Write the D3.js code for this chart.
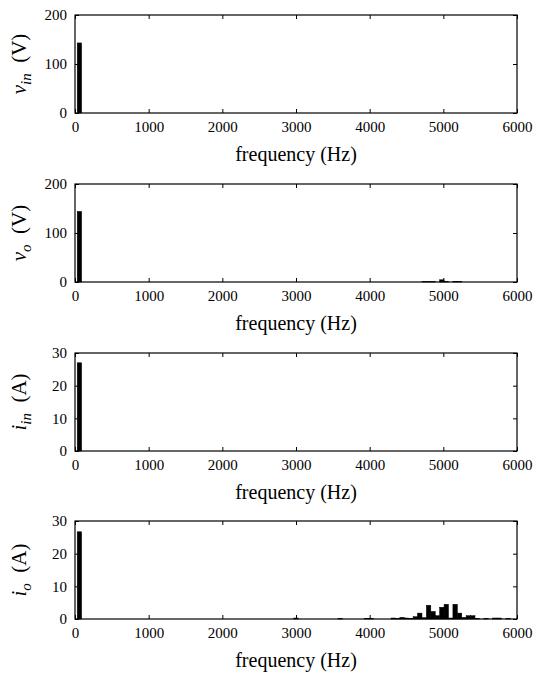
<!DOCTYPE html>
<html>
<head>
<meta charset="utf-8">
<script src="https://cdn.jsdelivr.net/npm/d3@7"></script>
<style>
  body { margin: 0; background: #fff; }
  svg text { font-family: "Liberation Serif", "DejaVu Serif", serif; fill: #000; }
</style>
</head>
<body>
<div class="canvas"></div>
<script>
const serif = '"Liberation Serif", "DejaVu Serif", serif';

// x axis ticks (Hz)
const xTicks = [0, 1000, 2000, 3000, 4000, 5000, 6000];

// harmonic spectra, frequency (Hz) and amplitude
const vinFreq = [60];
const vinAmp = [143];

const voFreq = [60, 4740, 4800, 4860, 4980, 5040, 5160, 5220];
const voAmp = [144, 0.6, 1.0, 0.8, 4.5, 1.0, 1.5, 1.0];

const iinFreq = [60];
const iinAmp = [27];

const ioFreq = [60, 3000, 3600, 3960, 4020, 4320, 4380, 4440, 4500, 4560, 4620, 4680, 4740,
  4800, 4860, 4920, 4980, 5040, 5100, 5160, 5220, 5280, 5340, 5400, 5460, 5580, 5700, 5760, 5880];
const ioAmp = [26.7, 0.3, 0.2, 0.2, 0.2, 0.3, 0.2, 0.5, 0.3, 0.2, 0.7, 1.8, 0.4,
  4.2, 2.3, 1.0, 3.6, 4.5, 0.3, 4.5, 1.8, 0.5, 1.0, 1.0, 0.2, 0.2, 0.3, 0.3, 0.2];

const panels = [
  { sym: 'v', sub: 'in', unit: '(V)', freq: vinFreq, amp: vinAmp, yMax: 200, yTicks: [0, 100, 200] },
  { sym: 'v', sub: 'o', unit: '(V)', freq: voFreq, amp: voAmp, yMax: 200, yTicks: [0, 100, 200] },
  { sym: 'i', sub: 'in', unit: '(A)', freq: iinFreq, amp: iinAmp, yMax: 30, yTicks: [0, 10, 20, 30] },
  { sym: 'i', sub: 'o', unit: '(A)', freq: ioFreq, amp: ioAmp, yMax: 30, yTicks: [0, 10, 20, 30] }
];

const width = 533, height = 675;
const left = 75, right = 517;
const panelTops = [15, 184, 353, 521];
const panelH = 98;
const tickLen = 4;
const binHalf = 30; // half of 60 Hz bin

const svg = d3.select('.canvas')
  .append('svg')
  .attr('width', width)
  .attr('height', height);

const x = d3.scaleLinear().domain([0, 6000]).range([left, right]);

panels.forEach((p, i) => {
  const top = panelTops[i];
  const bottom = top + panelH;
  const y = d3.scaleLinear().domain([0, p.yMax]).range([bottom, top]);

  const g = svg.append('g');

  // bars
  const data = p.freq.map((f, k) => ({ f: f, a: p.amp[k] }));
  g.selectAll('rect.bar')
    .data(data)
    .enter()
    .append('rect')
    .attr('class', 'bar')
    .attr('x', d => x(d.f - binHalf))
    .attr('width', d => x(d.f + binHalf) - x(d.f - binHalf))
    .attr('y', d => y(d.a))
    .attr('height', d => y(0) - y(d.a))
    .attr('fill', '#000')
    .attr('stroke', '#000')
    .attr('stroke-width', 0.5);

  // axes (ticks inside, mirrored)
  const xAxisB = d3.axisBottom(x).tickValues(xTicks).tickFormat(d3.format('d'))
    .tickSizeInner(-tickLen).tickSizeOuter(0).tickPadding(8);
  const xAxisT = d3.axisTop(x).tickValues(xTicks).tickSizeInner(-tickLen).tickSizeOuter(0).tickFormat('');
  const yAxisL = d3.axisLeft(y).tickValues(p.yTicks).tickFormat(d3.format('d'))
    .tickSizeInner(-tickLen).tickSizeOuter(0).tickPadding(8);
  const yAxisR = d3.axisRight(y).tickValues(p.yTicks).tickSizeInner(-tickLen).tickSizeOuter(0).tickFormat('');

  const gb = g.append('g').attr('transform', `translate(0,${bottom})`).call(xAxisB);
  const gt = g.append('g').attr('transform', `translate(0,${top})`).call(xAxisT);
  const gl = g.append('g').attr('transform', `translate(${left},0)`).call(yAxisL);
  const gr = g.append('g').attr('transform', `translate(${right},0)`).call(yAxisR);

  [gb, gt, gl, gr].forEach(a => {
    a.attr('font-family', serif).attr('font-size', 15);
    a.select('.domain').remove();
    a.selectAll('line').attr('stroke', '#000').attr('stroke-width', 1);
    a.selectAll('text').attr('fill', '#000');
  });

  // box
  g.append('rect')
    .attr('x', left)
    .attr('y', top)
    .attr('width', right - left)
    .attr('height', panelH)
    .attr('fill', 'none')
    .attr('stroke', '#000')
    .attr('stroke-width', 1.2);

  // x label
  g.append('text')
    .attr('x', (left + right) / 2)
    .attr('y', bottom + 48)
    .attr('text-anchor', 'middle')
    .attr('font-family', serif)
    .attr('font-size', 20)
    .text('frequency (Hz)');

  // y label
  const yl = g.append('text')
    .attr('transform', `translate(26,${(top + bottom) / 2}) rotate(-90)`)
    .attr('text-anchor', 'middle')
    .attr('font-family', serif)
    .attr('font-size', 21);
  yl.append('tspan').attr('font-style', 'italic').text(p.sym);
  yl.append('tspan').attr('font-style', 'italic').attr('font-size', 15)
    .attr('dy', 5).text(p.sub);
  yl.append('tspan').attr('dy', -5).text('\u00a0\u00a0' + p.unit);
});
</script>
</body>
</html>
